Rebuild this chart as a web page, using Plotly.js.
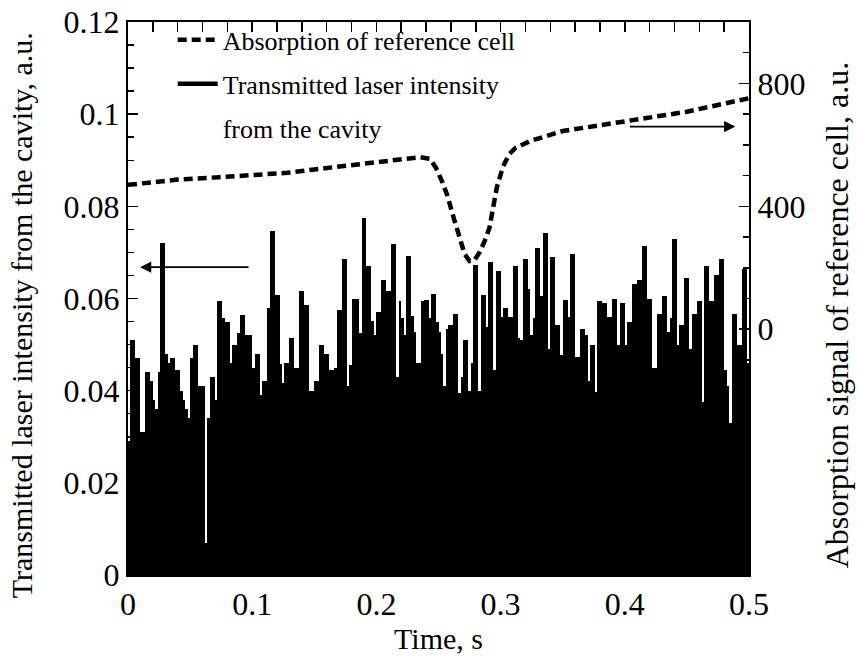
<!DOCTYPE html>
<html>
<head>
<meta charset="utf-8">
<script src="https://cdn.plot.ly/plotly-3.0.1.min.js"></script>
<style>html,body{margin:0;padding:0;background:#fff;}#chart{width:857px;height:661px;}</style>
</head>
<body>
<div id="chart"></div>
<script>
// Transmitted laser intensity (left axis), one bar per 2 ms sample, t = 0 .. 0.5 s
const sampleStart = 0.001;   // s, centre of first sample
const sampleStep = 0.002;    // s
const transmitted = [
  0.029,0.051,0.051,0.047,0.047,0.031,0.031,0.044,0.044,0.042,
  0.038,0.036,0.044,0.072,0.072,0.048,0.046,0.047,0.047,0.0445,
  0.0445,0.040,0.038,0.036,0.034,0.047,0.050,0.050,0.041,0.041,
  0.041,0.007,0.034,0.043,0.043,0.038,0.0595,0.0595,0.0557,0.055,
  0.055,0.046,
  0.050,0.050,0.0525,0.0564,0.0564,0.052,0.052,0.052,0.045,0.048,
  0.048,0.039,0.042,0.042,0.058,0.0746,0.0746,0.0607,0.0607,0.0458,
  0.0416,0.046,0.046,0.0514,0.0514,0.045,0.045,0.0616,0.0616,0.0585,
  0.0585,0.040,0.040,0.042,0.042,0.050,0.050,0.048,0.048,0.0445,
  0.0445,
  0.045,0.0575,0.0575,0.0686,0.0686,0.041,0.0455,0.060,0.060,0.060,
  0.0525,0.0775,0.0775,0.067,0.067,0.0551,0.052,0.057,0.057,0.064,
  0.064,0.0616,0.0616,0.0718,0.0718,0.043,0.0594,0.0557,0.052,0.0692,
  0.0692,0.0563,0.0528,0.046,0.046,0.0594,0.0597,0.0597,0.0557,0.061,
  0.061,
  0.055,0.0528,0.048,0.041,0.0534,0.0542,0.0542,0.0566,0.0566,0.0395,
  0.043,0.051,0.051,0.040,0.046,0.0673,0.0673,0.040,0.0607,0.0607,
  0.0538,0.068,0.068,0.0445,0.066,0.066,0.056,0.058,0.058,0.056,
  0.056,0.067,0.067,0.0514,0.051,0.0686,0.0686,0.062,0.052,0.0557,
  0.071,0.071,
  0.0605,0.0742,0.0742,0.049,0.069,0.069,0.0542,0.0542,0.0478,0.0597,
  0.0597,0.056,0.0697,0.0697,0.0474,0.0474,0.0534,0.0534,0.052,0.042,
  0.050,0.050,0.0398,0.0594,0.0594,0.059,0.059,0.056,0.056,0.060,
  0.060,0.050,0.059,0.059,0.050,0.055,0.055,0.0632,0.0632,0.064,
  0.064,
  0.0714,0.0714,0.060,0.060,0.045,0.045,0.0566,0.0566,0.0605,0.0605,
  0.0528,0.0557,0.073,0.073,0.050,0.0542,0.0542,0.0645,0.0645,0.049,
  0.0566,0.0566,0.0594,0.0594,0.0376,0.067,0.067,0.0594,0.0594,0.065,
  0.065,0.0686,0.0686,0.0445,0.041,0.033,0.0566,0.0566,0.050,0.050,
  0.0665,0.0665,0.046
];

// Absorption of reference cell (right axis)
const absTime = [0,0.01,0.04,0.074,0.1,0.128,0.15,0.181,0.2,0.221,0.235,0.243,0.248,0.253,0.257,0.262,0.267,0.271,0.275,0.279,0.283,0.287,0.291,0.294,0.297,0.302,0.307,0.312,0.324,0.35,0.4,0.45,0.5];
const absSignal = [470,474,487,495,502,509,520,534,545,555,560,555,525,480,437,366,292,245,222,225,250,285,330,400,462,530,570,590,613,645,678,708,752];

const leftTicks = [0,0.02,0.04,0.06,0.08,0.1,0.12];
const rightTickVals = [0,400,800];
const rightTickText = ['0','400','800'];

const legendLine1 = 'Absorption of reference cell';
const legendLine2 = 'Transmitted laser intensity';
const legendLine3 = 'from the cavity';

const xTitle = 'Time, s';
const yTitleLeft = 'Transmitted laser intensity from the cavity, a.u.';
const yTitleRight = 'Absorption signal of reference cell, a.u.';

const FONT = 'Liberation Serif';

const traces = [
  {
    type: 'bar', x0: sampleStart, dx: sampleStep, y: transmitted,
    marker: {color: '#000', line: {width: 0}},
    showlegend: false, hoverinfo: 'skip', yaxis: 'y'
  },
  {
    type: 'scatter', mode: 'lines', x: absTime, y: absSignal, yaxis: 'y2',
    name: legendLine1, legendgroup: 'g1',
    line: {color: '#000', width: 4.5, dash: '9px,5px'}
  },
  {
    type: 'scatter', mode: 'lines', x: [null], y: [null], yaxis: 'y',
    name: legendLine2, legendgroup: 'g2',
    line: {color: '#000', width: 4.5}
  },
  {
    type: 'scatter', mode: 'lines', x: [null], y: [null], yaxis: 'y',
    name: legendLine3, legendgroup: 'g3',
    line: {color: 'rgba(0,0,0,0)', width: 0}
  }
];

const layout = {
  width: 857, height: 661,
  margin: {l: 128, r: 108, t: 22, b: 86, pad: 0},
  paper_bgcolor: '#fff', plot_bgcolor: '#fff',
  font: {family: FONT, size: 26, color: '#000'},
  bargap: 0,
  showlegend: true,
  legend: {
    x: 0.072, y: 1.01, xanchor: 'left', yanchor: 'top',
    bgcolor: 'rgba(0,0,0,0)', borderwidth: 0,
    font: {family: FONT, size: 26, color: '#000'},
    itemwidth: 40, valign: 'middle', traceorder: 'grouped', tracegroupgap: 7
  },
  xaxis: {
    range: [0, 0.5], tick0: 0, dtick: 0.1,
    ticks: 'inside', ticklen: 10, tickwidth: 1.5, tickcolor: '#000',
    minor: {dtick: 0.02, ticks: 'inside', ticklen: 6, tickwidth: 1.5, tickcolor: '#000'},
    showline: true, linewidth: 2, linecolor: '#000', mirror: 'allticks',
    showgrid: false, zeroline: false,
    tickfont: {family: FONT, size: 32},
    title: {text: xTitle, font: {family: FONT, size: 30}, standoff: 6}
  },
  yaxis: {
    range: [0, 0.12], tickmode: 'array', tickvals: leftTicks,
    ticks: 'inside', ticklen: 10, tickwidth: 1.5, tickcolor: '#000',
    minor: {dtick: 0.005, ticks: 'inside', ticklen: 6, tickwidth: 1.5, tickcolor: '#000'},
    showline: true, linewidth: 2, linecolor: '#000', mirror: false,
    showgrid: false, zeroline: false,
    tickfont: {family: FONT, size: 32}
  },
  yaxis2: {
    overlaying: 'y', side: 'right', range: [-800, 1000],
    tickmode: 'array', tickvals: rightTickVals, ticktext: rightTickText,
    ticks: 'inside', ticklen: 10, tickwidth: 1.5, tickcolor: '#000',
    minor: {tick0: 0, dtick: 100, ticks: 'inside', ticklen: 6, tickwidth: 1.5, tickcolor: '#000'},
    showline: true, linewidth: 2, linecolor: '#000',
    showgrid: false, zeroline: false,
    tickfont: {family: FONT, size: 32}
  },
  annotations: [
    {xref: 'x', yref: 'y', x: 0.0097, y: 0.0668, ax: 110, ay: 0, text: '',
     showarrow: true, arrowhead: 2, arrowsize: 1.4, arrowwidth: 1.6, arrowcolor: '#000'},
    {xref: 'x', yref: 'y', x: 0.489, y: 0.0973, ax: -107, ay: 0, text: '',
     showarrow: true, arrowhead: 2, arrowsize: 1.4, arrowwidth: 1.6, arrowcolor: '#000'},
    {xref: 'paper', yref: 'paper', x: -0.172, y: 0.47, xanchor: 'center', yanchor: 'middle',
     text: yTitleLeft, textangle: -90, showarrow: false,
     font: {family: FONT, size: 30, color: '#000'}},
    {xref: 'paper', yref: 'paper', x: 1.142, y: 0.47, xanchor: 'center', yanchor: 'middle',
     text: yTitleRight, textangle: -90, showarrow: false,
     font: {family: FONT, size: 32, color: '#000'}}
  ]
};

Plotly.newPlot('chart', traces, layout, {displayModeBar: false, staticPlot: true});
</script>
</body>
</html>
